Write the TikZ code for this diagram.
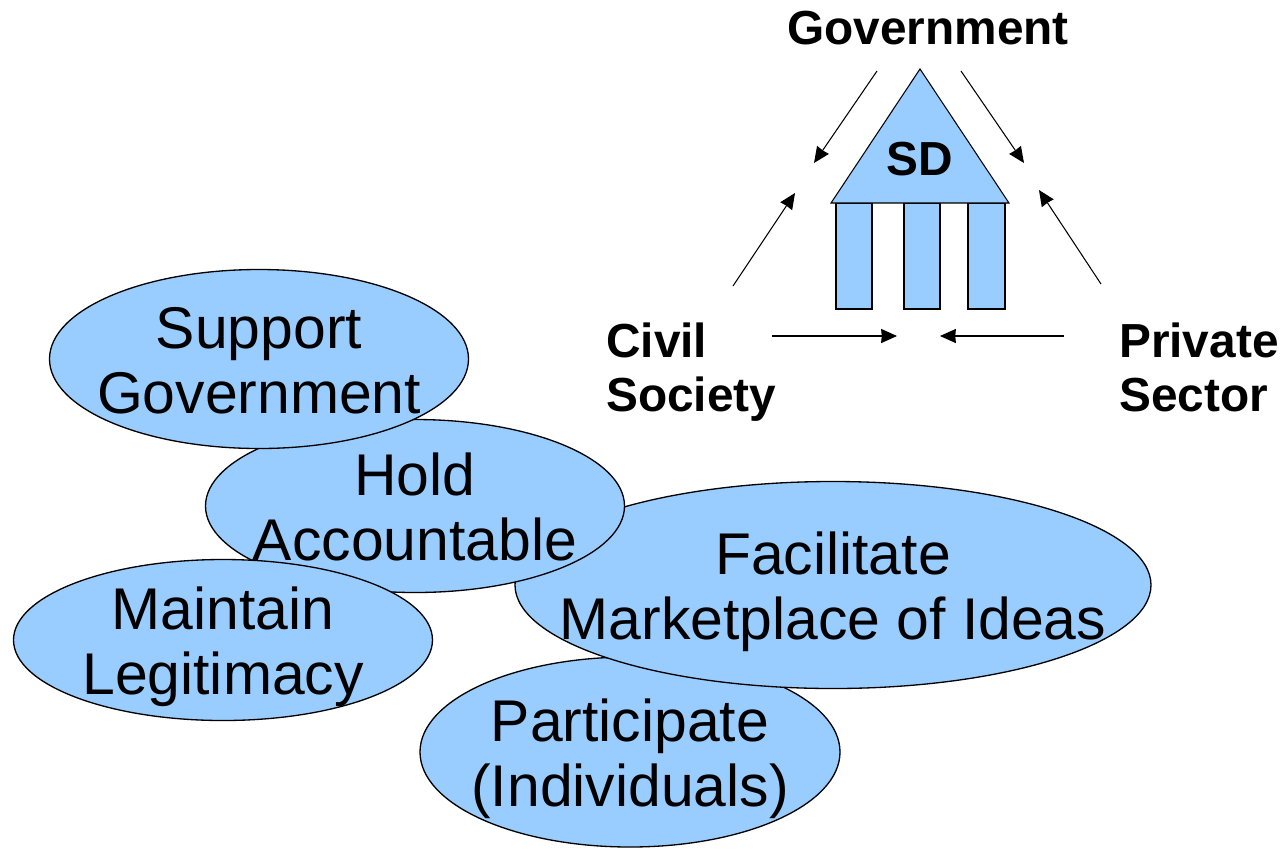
\documentclass[tikz,border=0pt]{standalone}
\usepackage{fontspec}
\setmainfont{Liberation Sans}
\usetikzlibrary{shapes.geometric, arrows.meta}
\definecolor{paleblue}{RGB}{153,204,255}
\newcommand{\goaltext}[2]{\rule{0pt}{33pt}#1\\#2\rule[-8pt]{0pt}{8pt}}

\begin{document}
\begin{tikzpicture}[
        goal/.style={ellipse, draw, fill=paleblue, line width=0.75pt, inner xsep=-1.5cm, inner ysep=-0.5cm, align=center,
            font=\fontsize{33.5}{37.2}\selectfont},
        actor/.style={align=left, font=\fontsize{27.2}{30.7}\selectfont\bfseries},
        pillar/.style={rectangle, draw, fill=paleblue, line width=0.6pt, inner sep=0pt, minimum height=2.12cm},
        link/.style={-{Stealth[length=9pt, width=8pt, inset=0.3pt]}, line width=0.6pt}]
        \useasboundingbox (0, 0) rectangle (25.74, -16.96);

        \node[goal, minimum width=8.4cm, minimum height=3.8cm] (participate) at (12.6, -15.04) {\goaltext{Participate}{(Individuals)}};
        \node[goal, minimum width=12.72cm, minimum height=4.14cm] (facilitate) at (16.66, -11.7) {\goaltext{Facilitate}{Marketplace of Ideas}};
        \node[goal, minimum width=8.38cm, minimum height=3.46cm] (hold) at (8.3, -10.12) {\goaltext{Hold}{Accountable}};
        \node[goal, minimum width=8.38cm, minimum height=3.22cm] (maintain) at (4.46, -12.8) {\goaltext{Maintain}{Legitimacy}};
        \node[goal, minimum width=8.38cm, minimum height=3.58cm] (support) at (5.18, -7.18) {\goaltext{Support}{Government}};

        \node[pillar, minimum width=0.72cm] (left) at (17.08, -5.12) {};
        \node[pillar, minimum width=0.72cm] (middle) at (18.44, -5.12) {};
        \node[pillar, minimum width=0.74cm] (right) at (19.73, -5.12) {};
        \draw[fill=paleblue, line width=0.6pt] (18.4, -1.38) -- (20.18, -4.06) -- (16.62, -4.06) -- cycle;
        \node[actor] (sd) at (18.4, -3.18) {SD};

        \node[actor] (government) at (18.56, -0.56) {Government};
        \node[actor, anchor=west] (civil) at (12, -7.44) {Civil\\Society};
        \node[actor, anchor=west] (private) at (22.26, -7.34) {Private\\Sector};

        \coordinate (a1) at (17.54, -1.42);
        \coordinate (a2) at (16.28, -3.26);
        \coordinate (b1) at (19.22, -1.42);
        \coordinate (b2) at (20.48, -3.26);
        \coordinate (c1) at (14.66, -5.72);
        \coordinate (c2) at (15.9, -3.86);
        \coordinate (d1) at (22.02, -5.68);
        \coordinate (d2) at (20.78, -3.8);
        \coordinate (e1) at (15.44, -6.72);
        \coordinate (e2) at (17.94, -6.72);
        \coordinate (f1) at (21.28, -6.72);
        \coordinate (f2) at (18.8, -6.72);

        \draw[link] (a1) -- (a2);
        \draw[link] (b1) -- (b2);
        \draw[link] (c1) -- (c2);
        \draw[link] (d1) -- (d2);
        \draw[link] (e1) -- (e2);
        \draw[link] (f1) -- (f2);
    \end{tikzpicture}
\end{document}
